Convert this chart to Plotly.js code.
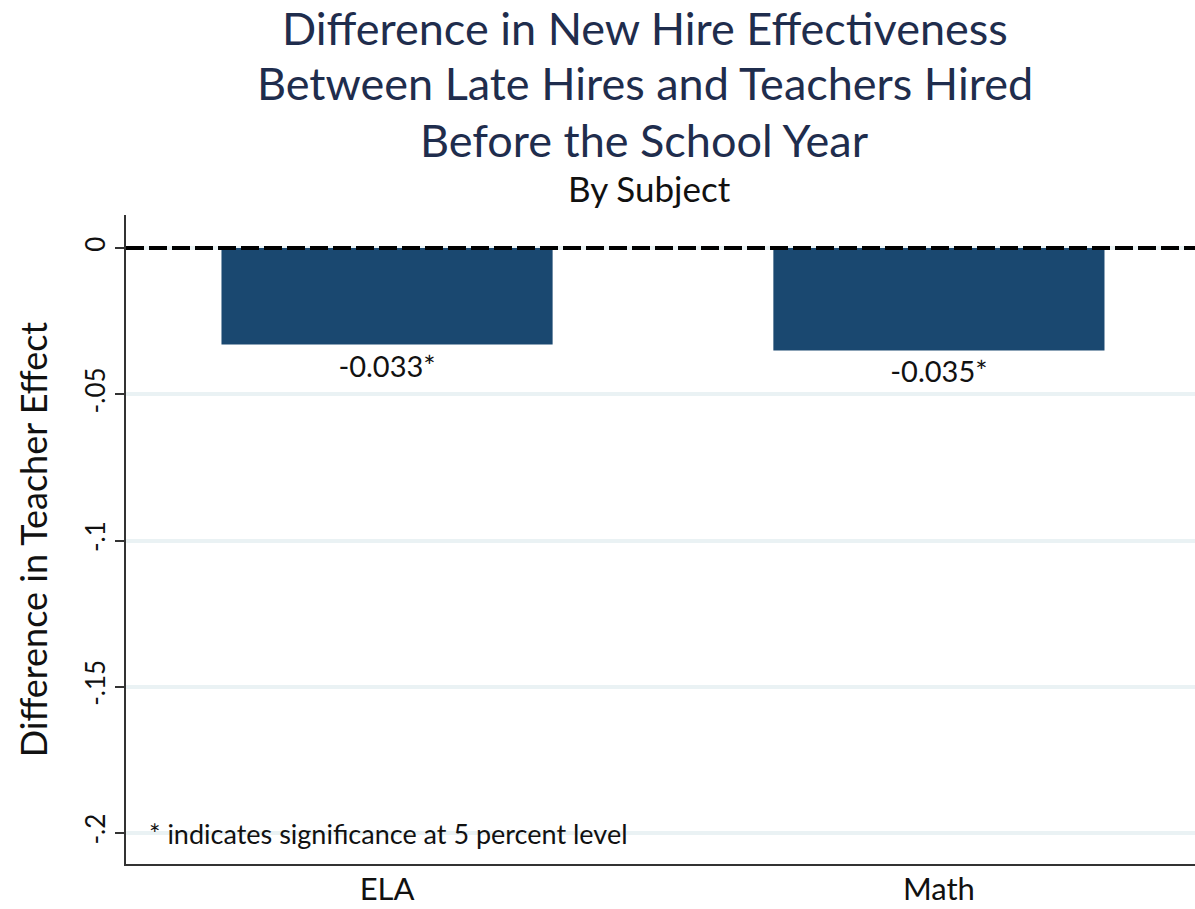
<!DOCTYPE html>
<html>
<head>
<meta charset="utf-8">
<script src="https://cdn.plot.ly/plotly-3.0.1.min.js"></script>
<style>html,body{margin:0;padding:0;background:#fff;}#chart{width:1195px;height:909px;}</style>
</head>
<body>
<div id="chart"></div>
<script>
const categories = ["ELA", "Math"];
const values = [-0.033, -0.035];
const valueLabels = ["-0.033*", "-0.035*"];
const yTickVals = [0, -0.05, -0.1, -0.15, -0.2];
const yTickText = ["0", "-.05", "-.1", "-.15", "-.2"];
const titleLines = ["Difference in New Hire Effectiveness", "Between Late Hires and Teachers Hired", "Before the School Year"];
const subtitle = "By Subject";
const note = "* indicates significance at 5 percent level";

const FONT = "Lato, 'Open Sans', sans-serif";

const trace = {
  type: "bar",
  x: categories,
  y: values,
  width: 0.6,
  marker: {color: "#1a4870", line: {width: 0}},
  text: valueLabels,
  textposition: "outside",
  textfont: {family: FONT, size: 29, color: "#111"},
  cliponaxis: false,
  hoverinfo: "skip"
};

const titleShifts = [187, 132, 75];
const annotations = titleLines.map((t, i) => ({
  text: t, xref: "paper", yref: "paper", x: 0.4855, y: 1, yshift: titleShifts[i],
  xanchor: "center", yanchor: "middle", showarrow: false,
  font: {family: FONT, size: 45, color: "#1f2d4d"}
}));
annotations.push({text: subtitle, xref: "paper", yref: "paper", x: 0.49, y: 1, yshift: 27, xanchor: "center", yanchor: "middle", showarrow: false, font: {family: FONT, size: 35, color: "#111"}});
annotations.push({text: note, xref: "paper", yref: "y", x: 0.02, y: -0.2, xanchor: "left", yanchor: "middle", showarrow: false, font: {family: FONT, size: 27, color: "#111"}});

const layout = {
  width: 1195,
  height: 909,
  paper_bgcolor: "#fff",
  plot_bgcolor: "#fff",
  margin: {l: 126, r: 0, t: 215, b: 45},
  showlegend: false,
  font: {family: FONT, color: "#111"},
  xaxis: {
    range: [-0.473, 1.464],
    showgrid: false,
    showline: true, linecolor: "#333", linewidth: 2,
    ticks: "", tickfont: {family: FONT, size: 31, color: "#111"},
    ticklabelstandoff: -3,
    zeroline: false, fixedrange: true
  },
  yaxis: {
    range: [-0.2106, 0.0113],
    tickvals: yTickVals, ticktext: yTickText,
    tickangle: -90,
    tickfont: {family: FONT, size: 26, color: "#111"},
    ticks: "outside", ticklen: 9, tickwidth: 2, tickcolor: "#333",
    showline: true, linecolor: "#333", linewidth: 2,
    showgrid: true, gridcolor: "#eaf2f4", gridwidth: 4,
    zeroline: false,
    title: {text: "Difference in Teacher Effect", font: {family: FONT, size: 36, color: "#111"}, standoff: 20},
    fixedrange: true
  },
  shapes: [{
    type: "line", xref: "paper", x0: 0, x1: 1, yref: "y", y0: 0, y1: 0,
    line: {color: "#000", width: 4, dash: "18px,5px"}, layer: "above"
  }],
  annotations: annotations
};

Plotly.newPlot("chart", [trace], layout, {displayModeBar: false, staticPlot: true});
</script>
</body>
</html>
